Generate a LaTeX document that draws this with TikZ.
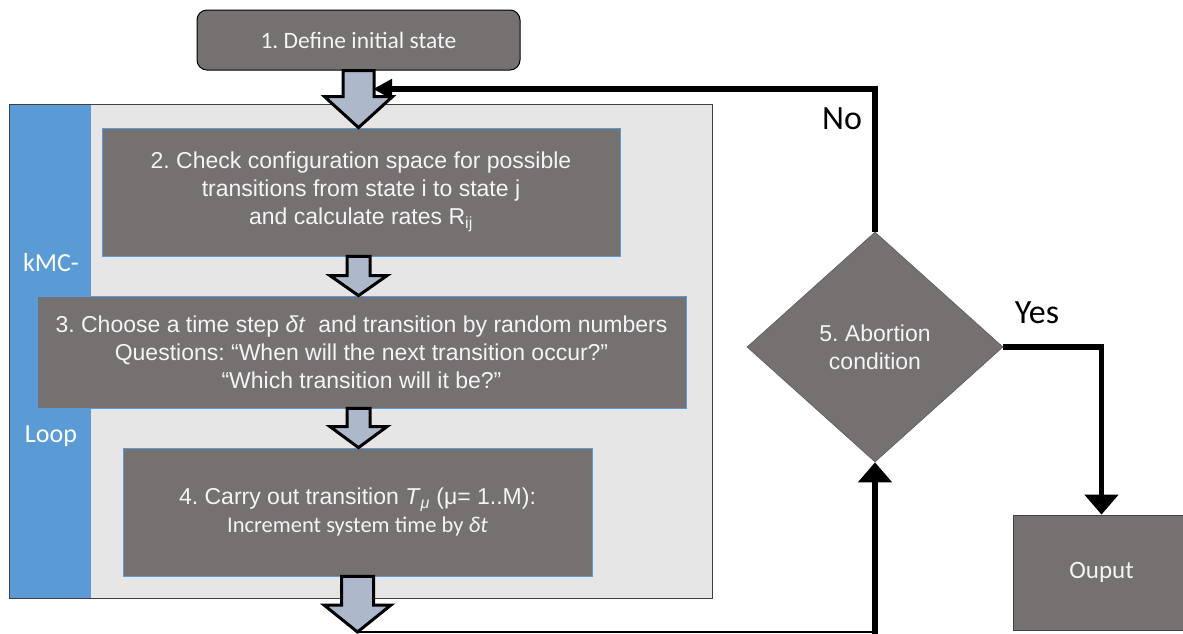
\documentclass[tikz,border=0pt]{standalone}
\usepackage{fontspec}
\setmainfont{Liberation Sans}
\newfontfamily\calibri{Carlito}
\usetikzlibrary{shapes.geometric,arrows.meta,calc}
\frenchspacing

\definecolor{boxgray}{HTML}{767171}
\definecolor{panelgray}{HTML}{E7E6E6}
\definecolor{loopblue}{HTML}{5B9BD5}
\definecolor{arrowfill}{HTML}{ADB9CA}
\definecolor{boxtext}{HTML}{F4F4F4}
\definecolor{frame}{HTML}{404040}

% hollow block arrow: start point (#1), tip (#2), half shaft width, half head width, head length
\newcommand\flowarrow[5]{%
  \draw[blockarrow] let \p1=#1, \p2=#2 in
    (\x2-#3pt,\y1) -- (\x2+#3pt,\y1) -- (\x2+#3pt,\y2+#5pt) -- (\x2+#4pt,\y2+#5pt)
    -- (\x2,\y2) -- (\x2-#4pt,\y2+#5pt) -- (\x2-#3pt,\y2+#5pt) -- cycle;}

\tikzset{
  stepbox/.style={draw=loopblue, line width=0.8pt, fill=boxgray, text=boxtext,
    align=center, inner sep=0pt, font=\fontsize{23}{28}\selectfont},
  startbox/.style={draw=black, line width=1pt, fill=boxgray, text=boxtext,
    rounded corners=10pt, inner sep=0pt, font=\calibri\fontsize{23.5}{28}\selectfont},
  decision/.style={diamond, draw=boxgray!80!black, line width=0.6pt, fill=boxgray,
    text=boxtext, align=center, inner sep=0pt, font=\fontsize{23}{28}\selectfont},
  outbox/.style={draw=frame, line width=0.8pt, fill=boxgray, text=boxtext,
    inner sep=0pt, font=\calibri\fontsize{25}{30}\selectfont},
  looplabel/.style={text=white, inner sep=0pt, font=\calibri\fontsize{26}{30}\selectfont},
  branchlabel/.style={text=black, inner sep=0pt, font=\calibri\fontsize{34}{40}\selectfont},
  blockarrow/.style={draw=black, line width=3pt, fill=arrowfill, line join=miter},
  flowline/.style={draw=black, line width=5.5pt},
  returnline/.style={draw=black, line width=1.3pt},
}

\begin{document}
\begin{tikzpicture}[x=1pt, y=-1pt]
  \useasboundingbox (0,0) rectangle (1183,633);

  % kMC loop panel
  \node[fill=panelgray, minimum width=621pt, minimum height=493pt, inner sep=0pt] (panel) at (401.5,351.5) {};
  \node[fill=loopblue, minimum width=81pt, minimum height=493pt, inner sep=0pt] (strip) at (50.5,351.5) {};
  \draw[frame, line width=0.8pt] (strip.north west) rectangle (panel.south east);
  \node[looplabel] (kmc) at (51,263) {kMC-};
  \node[looplabel] (loop) at (51,436) {Loop};

  % steps
  \node[startbox, minimum width=323pt, minimum height=60pt] (b1) at (358.5,40) {1. Define initial state};
  \node[stepbox, minimum width=518pt, minimum height=128pt] (b2) at (361,192)
    {2. Check configuration space for possible\\transitions from state i to state j\\and calculate rates R\textsubscript{ij}};
  \node[stepbox, minimum width=649pt, minimum height=112pt] (b3) at (361.5,352)
    {3. Choose a time step \textit{δt}\ \ and transition by random numbers\\Questions: “When will the next transition occur?”\\“Which transition will it be?”};
  \node[stepbox, minimum width=469pt, minimum height=128pt] (b4) at (357.5,512)
    {4. Carry out transition \textit{T}\textsubscript{\textit{μ}} (μ= 1..M):\\{\calibri\fontsize{22.5}{28}\selectfont Increment system time by \textit{δt}}};
  \node[decision, minimum width=256pt, minimum height=230pt] (dec) at (875,347) {5. Abortion\\condition};
  \node[outbox, minimum width=177pt, minimum height=115pt] (out) at (1101.5,572.5) {Ouput};

  \coordinate (loopend) at (357.5,632);
  \coordinate (noend) at (373,89);

  % block arrows of the loop
  \flowarrow{(b1.south)}{(b1.south |- b2.north)}{15.5}{34}{31}
  \flowarrow{(b2.south)}{(b1.south |- b3.north)}{11.5}{28.5}{20}
  \flowarrow{(b3.south)}{(b1.south |- b4.north)}{11.5}{28.5}{21}
  \flowarrow{(b4.south)}{(loopend)}{16}{33.5}{27}

  % decision branches
  \draw[flowline, -{Triangle[length=19pt,width=19pt]}] (dec.north) |- (noend);
  \node[branchlabel] (no) at (842,119) {No};
  \draw[flowline, -{Triangle[length=20pt,width=33pt]}] (dec.east) -| (out.north);
  \node[branchlabel] (yes) at (1037,313) {Yes};

  % return from the loop to the decision
  \draw[returnline] (loopend) -- (loopend -| dec.south);
  \draw[flowline, -{Triangle[length=20pt,width=33pt]}] ($(dec.south |- loopend)+(0,2)$) -- (dec.south);
\end{tikzpicture}
\end{document}
